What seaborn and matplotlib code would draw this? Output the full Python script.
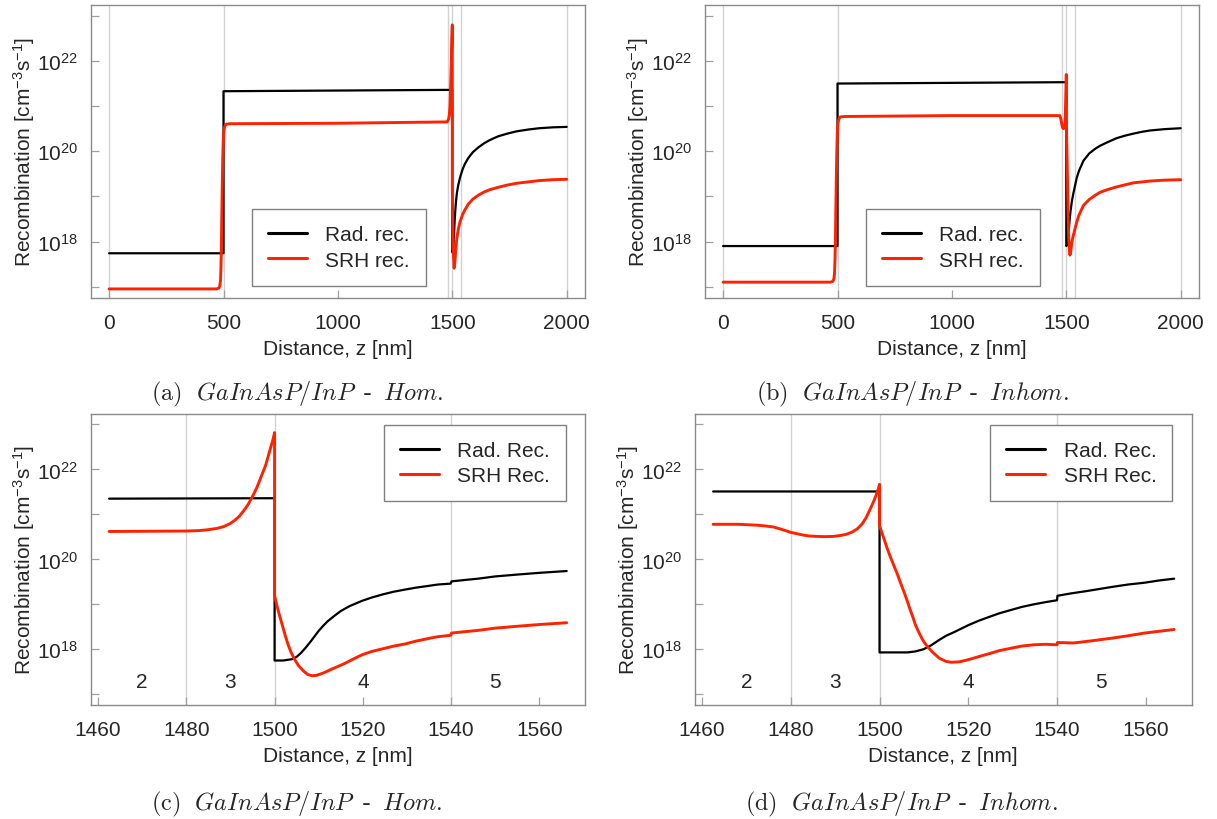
import numpy as np
import pandas as pd
import matplotlib
matplotlib.use("Agg")
import matplotlib.pyplot as plt
import seaborn as sns
from matplotlib.ticker import FixedLocator, FuncFormatter, NullFormatter

# ---------------- data (log10 of recombination rate, cm^-3 s^-1) ----------------
# (a) GaInAsP/InP - Hom., full structure
a_rad_x = [0, 500, 500, 1500, 1500, 1502, 1504, 1506, 1508, 1510, 1513, 1516, 1520, 1526, 1534, 1545, 1555, 1570,
           1590, 1615, 1640, 1665, 1700, 1740, 1780, 1830, 1880, 1940, 2000]
a_rad_y = [17.74, 17.74, 21.33, 21.36, 17.76, 17.77, 17.85, 18.0, 18.2, 18.43, 18.68, 18.88, 19.07, 19.25, 19.42,
           19.6, 19.72, 19.85, 19.98, 20.09, 20.18, 20.25, 20.33, 20.39, 20.44, 20.48, 20.51, 20.53, 20.54]
a_srh_x = [0, 470, 480, 484, 487, 489, 491, 493, 495, 497, 499, 502, 506, 512, 530, 1000, 1477, 1483, 1487, 1490,
           1492, 1494, 1496, 1498, 1500, 1500, 1502.4, 1505, 1508, 1511, 1515, 1520, 1526, 1534, 1545, 1555, 1570,
           1590, 1615, 1640, 1665, 1700, 1740, 1780, 1830, 1880, 1940, 2000]
a_srh_y = [16.95, 16.95, 16.97, 17.02, 17.15, 17.45, 18.0, 18.7, 19.35, 19.9, 20.25, 20.47, 20.56, 20.6, 20.61,
           20.62, 20.65, 20.7, 20.8, 21.0, 21.3, 21.65, 22.05, 22.45, 22.8, 19.2, 18.31, 17.7, 17.41, 17.52, 17.82,
           18.08, 18.27, 18.44, 18.6, 18.7, 18.83, 18.94, 19.03, 19.1, 19.15, 19.2, 19.25, 19.29, 19.32, 19.35,
           19.37, 19.38]

# (b) GaInAsP/InP - Inhom., full structure
b_rad_x = [0, 500, 500, 1500, 1500, 1505, 1508, 1511, 1514, 1518, 1524, 1531, 1540, 1545, 1555, 1575, 1600, 1625,
           1647, 1680, 1720, 1760, 1793, 1830, 1866, 1930, 2000]
b_rad_y = [17.9, 17.9, 21.5, 21.53, 17.9, 17.93, 18.05, 18.25, 18.45, 18.65, 18.88, 19.07, 19.28, 19.4, 19.56,
           19.79, 19.95, 20.05, 20.12, 20.2, 20.29, 20.35, 20.39, 20.43, 20.46, 20.49, 20.51]
b_srh_x = [0, 470, 480, 484, 487, 489, 491, 493, 495, 497, 499, 502, 506, 512, 530, 1000, 1472, 1476, 1479, 1481.4,
           1484, 1488, 1491, 1494, 1496, 1498, 1499.2, 1500, 1500, 1501, 1502.3, 1504.1, 1505.5, 1506.8, 1508.1,
           1509.5, 1510.8, 1513.5, 1516, 1520, 1524, 1528, 1534, 1540, 1545, 1555, 1575, 1600, 1625, 1647, 1680,
           1720, 1760, 1793, 1830, 1866, 1930, 2000]
b_srh_y = [17.1, 17.1, 17.12, 17.17, 17.3, 17.6, 18.1, 18.8, 19.45, 20.0, 20.38, 20.62, 20.72, 20.76, 20.77,
           20.79, 20.79, 20.72, 20.64, 20.57, 20.52, 20.5, 20.53, 20.61, 20.79, 21.12, 21.42, 21.7, 20.75, 20.46,
           20.09, 19.65, 19.28, 18.91, 18.54, 18.25, 18.06, 17.8, 17.7, 17.8, 17.98, 18.08, 18.2, 18.32, 18.42,
           18.58, 18.8, 18.93, 19.02, 19.09, 19.15, 19.21, 19.26, 19.3, 19.32, 19.34, 19.36, 19.37]

# (c) GaInAsP/InP - Hom., zoom on the active region
c_rad_x = [1462.5, 1500, 1500, 1502, 1504, 1505, 1506, 1507, 1508, 1509, 1510, 1511, 1512, 1513.5, 1515, 1517,
           1519.9, 1522, 1524.5, 1527, 1529.7, 1532, 1534.9, 1537, 1539.9, 1540.1, 1543, 1546.1, 1550, 1554.8,
           1560, 1566.2]
c_rad_y = [21.35, 21.36, 17.75, 17.75, 17.78, 17.83, 17.92, 18.03, 18.15, 18.28, 18.41, 18.52, 18.62, 18.74,
           18.85, 18.96, 19.08, 19.15, 19.22, 19.28, 19.33, 19.37, 19.41, 19.44, 19.46, 19.51, 19.54, 19.57, 19.62,
           19.66, 19.7, 19.74]
c_srh_x = [1462.5, 1480, 1483, 1485, 1487, 1488.5, 1490, 1491, 1492, 1493, 1494, 1495, 1496, 1497, 1498, 1499,
           1499.6, 1500, 1500, 1500.5, 1501.1, 1501.8, 1502.4, 1503, 1503.7, 1504.5, 1505.4, 1506.5, 1507.5, 1508.5,
           1509.5, 1511, 1513, 1515.8, 1518, 1519.9, 1522, 1524.5, 1527, 1529.7, 1532, 1534.9, 1537, 1539.9, 1540.1,
           1543, 1546.1, 1550, 1554.8, 1560, 1566.2]
c_srh_y = [20.62, 20.63, 20.64, 20.66, 20.69, 20.73, 20.8, 20.87, 20.96, 21.08, 21.22, 21.4, 21.6, 21.85, 22.1,
           22.45, 22.65, 22.82, 19.2, 18.98, 18.76, 18.52, 18.31, 18.12, 17.94, 17.78, 17.64, 17.52, 17.44, 17.41,
           17.42, 17.47, 17.56, 17.68, 17.79, 17.88, 17.95, 18.01, 18.07, 18.12, 18.18, 18.24, 18.28, 18.31, 18.36,
           18.39, 18.42, 18.47, 18.51, 18.55, 18.59]

# (d) GaInAsP/InP - Inhom., zoom on the active region
d_rad_x = [1462.5, 1500, 1500, 1506.3, 1508, 1509.9, 1511.5, 1513.5, 1515, 1517, 1520.1, 1522.5, 1525, 1527,
           1529.5, 1532, 1534.8, 1537.5, 1540, 1540.1, 1543, 1546.4, 1549.5, 1552.6, 1556, 1559.7, 1563, 1566.4]
d_rad_y = [21.51, 21.51, 17.93, 17.93, 17.95, 18.0, 18.08, 18.21, 18.3, 18.39, 18.54, 18.64, 18.73, 18.8, 18.87,
           18.94, 19.0, 19.05, 19.09, 19.19, 19.24, 19.29, 19.34, 19.39, 19.44, 19.48, 19.53, 19.57]
d_srh_x = [1462.5, 1468, 1472.5, 1474.5, 1476.1, 1477.5, 1478.8, 1480, 1481.4, 1482.8, 1484.1, 1486, 1487.7,
           1489.5, 1491.2, 1492.6, 1493.9, 1495, 1496.1, 1497, 1497.9, 1498.6, 1499.2, 1499.7, 1500, 1500, 1500.5,
           1501, 1501.6, 1502.3, 1503.2, 1504.1, 1504.8, 1505.5, 1506.2, 1506.8, 1507.5, 1508.1, 1508.8, 1509.5,
           1510.1, 1510.8, 1512, 1513.5, 1515, 1516.1, 1518, 1520.1, 1522.5, 1525, 1527, 1529.5, 1532, 1534.8,
           1537.5, 1540, 1540.1, 1543.7, 1548, 1552.6, 1556, 1559.7, 1563, 1566.4]
d_srh_y = [20.78, 20.78, 20.76, 20.74, 20.72, 20.68, 20.64, 20.6, 20.57, 20.54, 20.52, 20.51, 20.505, 20.51,
           20.53, 20.56, 20.61, 20.68, 20.79, 20.93, 21.12, 21.27, 21.42, 21.56, 21.67, 20.75, 20.6, 20.46, 20.28,
           20.09, 19.87, 19.65, 19.46, 19.28, 19.09, 18.91, 18.72, 18.54, 18.39, 18.25, 18.15, 18.06, 17.93, 17.8,
           17.73, 17.71, 17.72, 17.77, 17.84, 17.91, 17.97, 18.02, 18.07, 18.1, 18.11, 18.1, 18.15, 18.14, 18.19,
           18.25, 18.3, 18.36, 18.4, 18.44]

# layer boundaries, ticks and labels
full_grid = [0, 500, 1480, 1500, 1540, 2000]
zoom_grid = [1480, 1500, 1540]
full_xticks = [0, 500, 1000, 1500, 2000]
zoom_xticks = [1460, 1480, 1500, 1520, 1540, 1560]
region_names = ["2", "3", "4", "5"]
region_x = [1470, 1490, 1520, 1550]
region_logy = 17.29
y_major = [18, 20, 22]
y_minor = [17, 19, 21, 23]
labels_lower = ["Rad. rec.", "SRH rec."]
labels_upper = ["Rad. Rec.", "SRH Rec."]
captions = [r"$\mathrm{(a)}\ \ GaInAsP/InP\;\;\text{-}\;\;Hom.$",
            r"$\mathrm{(b)}\ \ GaInAsP/InP\;\;\text{-}\;\;Inhom.$",
            r"$\mathrm{(c)}\ \ GaInAsP/InP\;\;\text{-}\;\;Hom.$",
            r"$\mathrm{(d)}\ \ GaInAsP/InP\;\;\text{-}\;\;Inhom.$"]

# ---------------- style ----------------
sns.set_style("white")
plt.rcParams.update({
    "font.family": ["Liberation Sans", "DejaVu Sans"],
    "mathtext.fontset": "custom",
    "mathtext.rm": "Liberation Sans",
    "mathtext.it": "Liberation Sans:italic",
    "mathtext.bf": "Liberation Sans:bold",
    "mathtext.sf": "Liberation Sans",
    "axes.unicode_minus": True,
})

RED = "#ff2200"
W, H = 1217, 820
fig = plt.figure(figsize=(W / 100, H / 100), dpi=100)


def rect(l, r, t, b):
    return [l / W, 1 - b / H, (r - l) / W, (b - t) / H]


axes = [
    fig.add_axes(rect(90.8, 585.0, 6.0, 298.5)),
    fig.add_axes(rect(704.8, 1199.0, 6.0, 298.5)),
    fig.add_axes(rect(90.8, 585.0, 414.7, 706.0)),
    fig.add_axes(rect(694.7, 1191.7, 414.7, 706.0)),
]

panels = [
    (a_rad_x, a_rad_y, a_srh_x, a_srh_y, labels_lower, (-80, 2080), full_xticks, full_grid, False, (0.5024, 0.171)),
    (b_rad_x, b_rad_y, b_srh_x, b_srh_y, labels_lower, (-80, 2080), full_xticks, full_grid, False, (0.5025, 0.171)),
    (c_rad_x, c_rad_y, c_srh_x, c_srh_y, labels_upper, (1458.35, 1570.35), zoom_xticks, zoom_grid, True, (0.778, 0.830)),
    (d_rad_x, d_rad_y, d_srh_x, d_srh_y, labels_upper, (1458.35, 1570.35), zoom_xticks, zoom_grid, True, (0.778, 0.830)),
]

for ax, (rx, ry, sx, sy, labs, xlim, xt, grid, regions, legc) in zip(axes, panels):
    for g in grid:
        ax.axvline(g, color="#d2d2d2", lw=1.0, zorder=0)
    sns.lineplot(x=rx, y=np.power(10.0, ry), ax=ax, color="black", lw=1.6,
                 estimator=None, sort=False, label=labs[0], zorder=3)
    sns.lineplot(x=sx, y=np.power(10.0, sy), ax=ax, color=RED, lw=2.1,
                 estimator=None, sort=False, label=labs[1], zorder=4)
    ax.set_yscale("log")
    ax.set_xlim(*xlim)
    ax.set_ylim(10 ** 16.76, 10 ** 23.24)
    ax.set_xticks(xt)
    ax.yaxis.set_major_locator(FixedLocator([10.0 ** e for e in y_major]))
    ax.yaxis.set_minor_locator(FixedLocator([10.0 ** e for e in y_minor]))
    ax.yaxis.set_major_formatter(FuncFormatter(lambda v, p: r"$\mathdefault{10^{%d}}$" % round(np.log10(v))))
    ax.yaxis.set_minor_formatter(NullFormatter())
    ax.xaxis.set_minor_locator(FixedLocator([]))
    ax.tick_params(which="both", direction="in", length=6, width=0.9, color="#a0a0a0",
                   labelsize=15, top=False, right=False, left=True, bottom=True)
    ax.tick_params(axis="x", pad=11)
    ax.tick_params(axis="y", pad=9)
    for s in ax.spines.values():
        s.set_color("#8a8a8a")
        s.set_linewidth(1.0)
    ax.set_xlabel("Distance, z [nm]", fontsize=15, labelpad=5)
    ax.set_ylabel("Recombination [cm$^{-3}$s$^{-1}$]", fontsize=15, labelpad=0)
    if regions:
        for name, xr in zip(region_names, region_x):
            ax.text(xr, 10 ** region_logy, name, ha="center", va="center", fontsize=15)
    leg = ax.legend(loc="center", bbox_to_anchor=legc, fontsize=15, handlelength=1.85,
                    handletextpad=0.9, borderpad=0.77, labelspacing=0.3, borderaxespad=0,
                    fancybox=False, framealpha=1.0, edgecolor="#808080")
    leg.get_frame().set_linewidth(1.0)
    for ln in leg.get_lines():
        ln.set_linewidth(2.2)

cap_pos = [(297, 394), (912.6, 394), (297, 804), (901.8, 804)]
for (cx, cy), cap in zip(cap_pos, captions):
    fig.text(cx / W, 1 - cy / H, cap, ha="center", va="center", fontsize=17.5, math_fontfamily="cm")

fig.savefig("out.png", dpi=100)
